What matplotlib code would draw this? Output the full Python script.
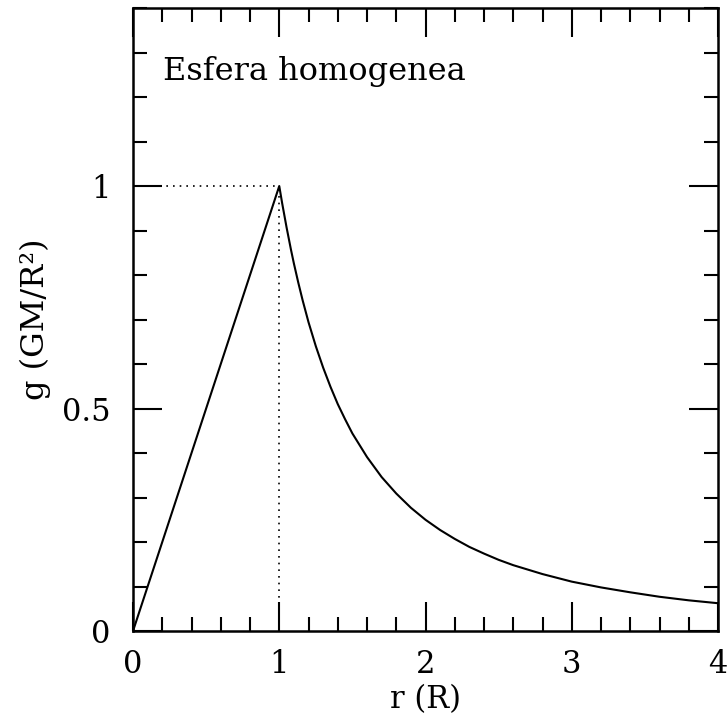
import matplotlib
matplotlib.use("Agg")
import matplotlib.pyplot as plt
from matplotlib.ticker import MultipleLocator

plt.rcParams['font.family'] = 'DejaVu Serif'

# radio (en unidades de R) y gravedad (GM/R^2)
r_vals = [0.0, 1.0, 1.02, 1.05, 1.08, 1.1, 1.13, 1.16, 1.2, 1.25, 1.3, 1.35,
          1.4, 1.45, 1.5, 1.6, 1.7, 1.8, 1.9, 2.0, 2.1, 2.2, 2.3, 2.4, 2.5,
          2.6, 2.8, 3.0, 3.2, 3.4, 3.6, 3.8, 4.0]
g_vals = [0.0, 1.0, 0.961, 0.907, 0.857, 0.826, 0.783, 0.743, 0.694, 0.640,
          0.592, 0.549, 0.510, 0.476, 0.444, 0.391, 0.346, 0.309, 0.277,
          0.250, 0.227, 0.207, 0.189, 0.174, 0.160, 0.148, 0.128, 0.111,
          0.098, 0.087, 0.077, 0.069, 0.0625]

# guias punteadas en la superficie (r = R)
r_surf = 1.0
g_surf = 1.0

fig = plt.figure(figsize=(7.28, 7.23), dpi=100)
ax = fig.add_axes([0.1827, 0.1272, 0.8036, 0.8617])

ax.plot(r_vals, g_vals, color='black', lw=1.5)
ax.plot([0, r_surf], [g_surf, g_surf], color='black', lw=1.2, ls=(0, (1, 3)))
ax.plot([r_surf, r_surf], [0, g_surf], color='black', lw=1.2, ls=(0, (1, 3)))

ax.set_xlim(0, 4)
ax.set_ylim(0, 1.4)
ax.xaxis.set_major_locator(MultipleLocator(1))
ax.xaxis.set_minor_locator(MultipleLocator(0.2))
ax.yaxis.set_major_locator(MultipleLocator(0.5))
ax.yaxis.set_minor_locator(MultipleLocator(0.1))
ax.set_xticks([0, 1, 2, 3, 4])
ax.set_xticklabels(['0', '1', '2', '3', '4'])
ax.set_yticks([0, 0.5, 1])
ax.set_yticklabels(['0', '0.5', '1'])

ax.tick_params(which='both', direction='in', top=True, right=True, width=1.5)
ax.tick_params(which='major', length=21, labelsize=22, pad=13)
ax.tick_params(axis='y', which='major', pad=16)
ax.tick_params(which='minor', length=10)
for s in ax.spines.values():
    s.set_linewidth(1.8)

ax.set_xlabel('r (R)', fontsize=22, labelpad=3)
ax.set_ylabel('g (GM/R²)', fontsize=23, labelpad=8)

ax.text(0.051, 0.884, 'Esfera homogenea', transform=ax.transAxes,
        fontsize=23, va='baseline', ha='left')

fig.savefig('out.png', dpi=100)
